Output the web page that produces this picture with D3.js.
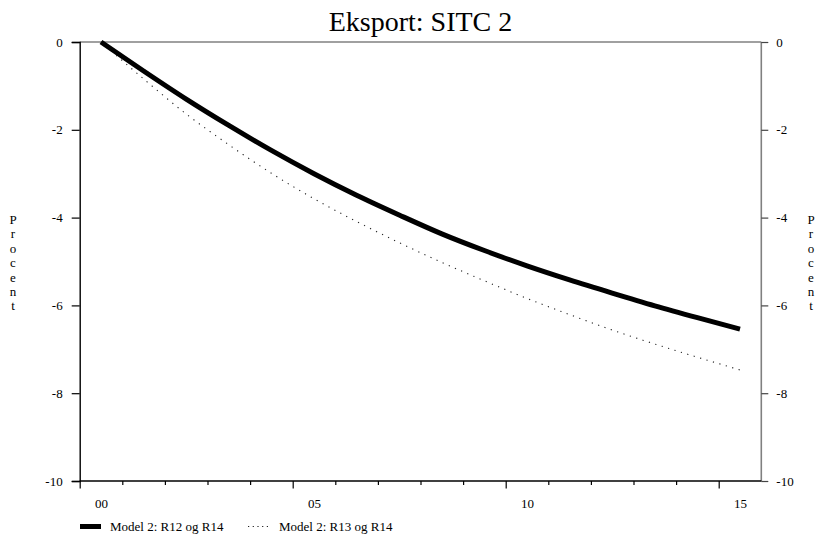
<!DOCTYPE html>
<html>
<head>
<meta charset="utf-8">
<script src="https://cdn.jsdelivr.net/npm/d3@7"></script>
<style>
  html, body { margin: 0; padding: 0; background: #fff; }
  svg { display: block; }
  svg text { font-family: "Liberation Serif", "Times New Roman", serif; }
</style>
</head>
<body>
<svg id="chart" width="824" height="537"></svg>
<script>
// Annual observations, plotted at mid-year
const years = [2000, 2001, 2002, 2003, 2004, 2005, 2006, 2007, 2008, 2009, 2010, 2011, 2012, 2013, 2014, 2015];
const seriesR12R14 = [0, -0.66, -1.30, -1.90, -2.47, -3.00, -3.49, -3.94, -4.37, -4.75, -5.10, -5.42, -5.72, -6.01, -6.28, -6.54];
const seriesR13R14 = [0, -0.84, -1.64, -2.34, -2.99, -3.57, -4.09, -4.57, -5.02, -5.44, -5.84, -6.21, -6.56, -6.88, -7.18, -7.47];
const seriesNames = ["Model 2: R12 og R14", "Model 2: R13 og R14"];
const yTicks = [0, -2, -4, -6, -8, -10];
const xLabelYears = [2000, 2005, 2010, 2015];
const xLabelText = ["00", "05", "10", "15"];
const title = "Eksport: SITC 2";
const yTitle = "Procent";

const FONT = "Liberation Serif";
const svg = d3.select("#chart");
const plotLeft = 79.7, plotRight = 761.3, plotTop = 42, plotBottom = 481;

const x = d3.scaleLinear().domain([2000, 2016]).range([plotLeft, plotRight]);
const y = d3.scaleLinear().domain([-10, 0]).range([plotBottom, plotTop]);
const plainNum = d => String(d); // hyphen-minus, as printed on the axes

// Title
svg.append("text")
  .attr("x", (plotLeft + plotRight) / 2 + 0)
  .attr("y", 31)
  .attr("text-anchor", "middle")
  .attr("font-family", FONT)
  .attr("font-size", 28)
  .attr("fill", "#000")
  .text(title);

// Frame: top and right in grey
svg.append("line").attr("x1", plotLeft).attr("x2", plotRight).attr("y1", plotTop).attr("y2", plotTop)
  .attr("stroke", "#808080").attr("stroke-width", 1.6);
svg.append("line").attr("x1", plotRight).attr("x2", plotRight).attr("y1", plotTop).attr("y2", plotBottom)
  .attr("stroke", "#808080").attr("stroke-width", 1.6);

// Left axis
const gL = svg.append("g").attr("transform", `translate(${plotLeft},0)`)
  .call(d3.axisLeft(y).tickValues(yTicks).tickSize(8).tickPadding(9).tickFormat(plainNum));
gL.select(".domain").attr("stroke", "#000").attr("stroke-width", 1.4);
gL.selectAll(".tick line").attr("stroke", "#000").attr("stroke-width", 1.2);
gL.selectAll(".tick text").attr("font-size", 13).attr("font-family", FONT).attr("fill", "#000");

// Right axis
const gR = svg.append("g").attr("transform", `translate(${plotRight},0)`)
  .call(d3.axisRight(y).tickValues(yTicks).tickSize(7).tickPadding(8).tickFormat(plainNum));
gR.select(".domain").remove();
gR.selectAll(".tick line").attr("stroke", "#444").attr("stroke-width", 1.2);
gR.selectAll(".tick text").attr("font-size", 13).attr("font-family", FONT).attr("fill", "#000");

// Bottom axis: yearly ticks, longer every fifth year
const gB = svg.append("g").attr("transform", `translate(0,${plotBottom})`)
  .call(d3.axisBottom(x).tickValues(years).tickSize(4).tickFormat(""));
gB.select(".domain").attr("d", `M${plotLeft},0H${plotRight}`).attr("stroke", "#000").attr("stroke-width", 1.4);
gB.selectAll(".tick line")
  .attr("y2", d => (d % 5 === 0 ? 7.5 : 4))
  .attr("stroke", "#000").attr("stroke-width", 1.2);

// Year labels centred on each labelled year
const gBL = svg.append("g").attr("transform", `translate(0,${plotBottom})`)
  .call(d3.axisBottom(x).tickValues(xLabelYears.map(v => v + 0.5)).tickSize(0).tickPadding(18)
    .tickFormat((d, i) => xLabelText[i]));
gBL.select(".domain").remove();
gBL.selectAll(".tick text").attr("font-size", 13).attr("font-family", FONT).attr("fill", "#000");

// Vertical "Procent" labels, one letter per line
function stacked(xPos) {
  const t = svg.append("text").attr("x", xPos).attr("y", 224)
    .attr("text-anchor", "middle").attr("font-family", FONT).attr("font-size", 13).attr("fill", "#000");
  yTitle.split("").forEach((ch, i) => {
    t.append("tspan").attr("x", xPos).attr("dy", i === 0 ? 0 : 14.4).text(ch);
  });
}
stacked(13);
stacked(811);

// Lines
const line = d3.line()
  .x((d, i) => x(years[i] + 0.5))
  .y(d => y(d))
  .curve(d3.curveMonotoneX);

svg.append("path").datum(seriesR13R14)
  .attr("d", line).attr("fill", "none")
  .attr("stroke", "#222").attr("stroke-width", 1.1)
  .attr("stroke-dasharray", "1.2,5.5");

svg.append("path").datum(seriesR12R14)
  .attr("d", line).attr("fill", "none")
  .attr("stroke", "#000").attr("stroke-width", 5)
  .attr("stroke-linecap", "butt");

// Legend
const lg = svg.append("g");
lg.append("line").attr("x1", 80).attr("x2", 101).attr("y1", 526.5).attr("y2", 526.5)
  .attr("stroke", "#000").attr("stroke-width", 5);
lg.append("text").attr("x", 110).attr("y", 531).attr("font-family", FONT).attr("font-size", 13).attr("fill", "#000").text(seriesNames[0]);
lg.append("line").attr("x1", 248).attr("x2", 268).attr("y1", 526.5).attr("y2", 526.5)
  .attr("stroke", "#222").attr("stroke-width", 1.1).attr("stroke-dasharray", "1.2,3.5");
lg.append("text").attr("x", 279).attr("y", 531).attr("font-family", FONT).attr("font-size", 13).attr("fill", "#000").text(seriesNames[1]);
</script>
</body>
</html>
